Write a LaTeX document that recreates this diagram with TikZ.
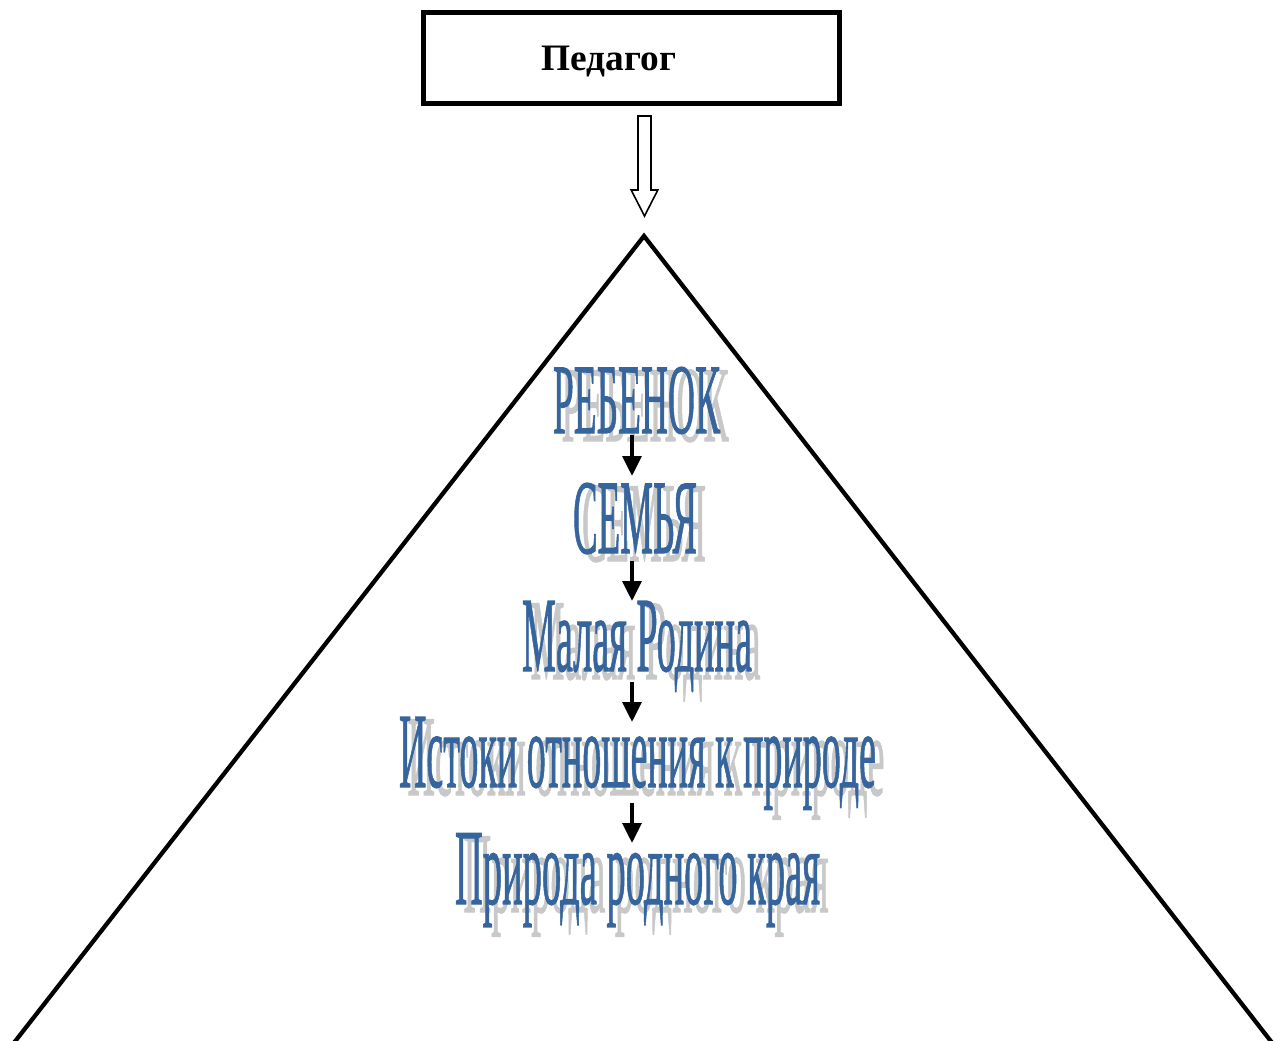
\documentclass[tikz,border=0pt]{standalone}
\usepackage{fontspec}
\setmainfont{Liberation Serif}
\newfontfamily\wafont[FakeBold=1.2]{Liberation Serif}
\usepackage{graphicx}
\usetikzlibrary{arrows.meta}
\definecolor{wablue}{HTML}{35659C}
\definecolor{wagray}{HTML}{C8C8C8}
\newcommand{\waText}[3]{\resizebox{#1}{#2}{\fontsize{40pt}{40pt}\wafont #3}}
\tikzset{
  watext/.style={anchor=base, inner sep=0pt, text=wablue},
  wshadow/.style={anchor=base, inner sep=0pt, text=wagray},
  flowarrow/.style={line width=3pt, -{Triangle[width=14pt,length=15pt]}},
  outline/.style={line width=3.2pt, line join=miter},
}
\begin{document}
\begin{tikzpicture}[x=0.75pt, y=-0.75pt]
\useasboundingbox (0,0) rectangle (1283,1040);
% top box
\node[draw, line width=3.75pt, minimum width=312pt, minimum height=68.25pt, inner sep=0pt] (box) at (631,57.5) {};
\node[anchor=base, inner sep=0pt] (ped) at (609,70) {\fontsize{28pt}{28pt}\selectfont\bfseries Педагог};
% hollow arrow
\coordinate (harrTop) at (644.5,116);
\coordinate (harrTip) at (644.5,216);
\draw[line width=1.2pt, fill=white] ([xshift=-4.9pt]harrTop) -- ([xshift=4.9pt]harrTop) -- ([xshift=4.9pt,yshift=19.5pt]harrTip) -- ([xshift=10pt,yshift=19.5pt]harrTip) -- (harrTip) -- ([xshift=-10pt,yshift=19.5pt]harrTip) -- ([xshift=-4.9pt,yshift=19.5pt]harrTip) -- cycle;
% triangle
\begin{scope}
\clip (0,0) rectangle (1283,1040);
\coordinate (apex) at (644,236);
\draw[outline] (0.5,1060) -- (apex) -- (1285.5,1060);
\end{scope}
% shadows
\node[wshadow] (s1) at (645,441) {\waText{125.25pt}{53.5pt}{РЕБЕНОК}};
\node[wshadow] (s2) at (644,561) {\waText{93pt}{56.5pt}{СЕМЬЯ}};
\node[wshadow] (s3) at (645.5,679) {\waText{172.5pt}{56.5pt}{Малая Родина}};
\node[wshadow] (s4) at (646,795) {\waText{357.75pt}{56.5pt}{Истоки отношения к природе}};
\node[wshadow] (s5) at (646,912) {\waText{273.75pt}{56.5pt}{Природа родного края}};
% texts
\node[watext] (t1) at (636.5,433) {\waText{125.25pt}{49.5pt}{РЕБЕНОК}};
\node[watext] (t2) at (635,553) {\waText{93pt}{52.5pt}{СЕМЬЯ}};
\node[watext] (t3) at (637,671) {\waText{172.5pt}{52.5pt}{Малая Родина}};
\node[watext] (t4) at (637.5,787) {\waText{357.75pt}{52.5pt}{Истоки отношения к природе}};
\node[watext] (t5) at (637.5,904) {\waText{273.75pt}{53pt}{Природа родного края}};
% arrows
\coordinate (a1s) at (632,435); \coordinate (a1e) at (632,476);
\coordinate (a2s) at (632,561); \coordinate (a2e) at (632,601);
\coordinate (a3s) at (632,682); \coordinate (a3e) at (632,722);
\coordinate (a4s) at (632,803); \coordinate (a4e) at (632,843);
\draw[flowarrow] (a1s) -- (a1e);
\draw[flowarrow] (a2s) -- (a2e);
\draw[flowarrow] (a3s) -- (a3e);
\draw[flowarrow] (a4s) -- (a4e);
\end{tikzpicture}
\end{document}
